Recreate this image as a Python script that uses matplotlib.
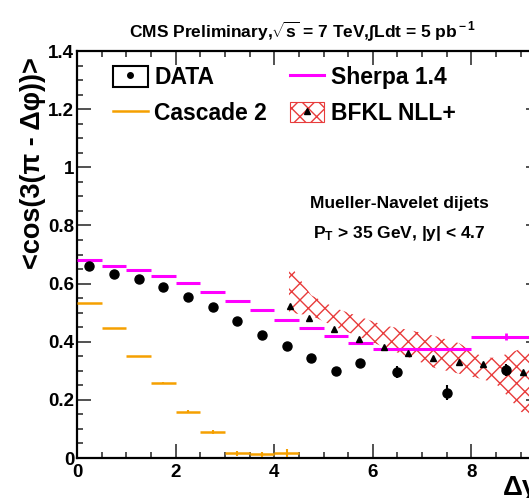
import numpy as np
import matplotlib
matplotlib.use("Agg")
import matplotlib.pyplot as plt
from matplotlib.lines import Line2D
from matplotlib.patches import Rectangle
from matplotlib.legend_handler import HandlerTuple

plt.rcParams['font.family'] = ['Liberation Sans', 'DejaVu Sans']
plt.rcParams['font.weight'] = 'bold'
plt.rcParams['mathtext.fontset'] = 'custom'
plt.rcParams['mathtext.rm'] = 'Liberation Sans:bold'
plt.rcParams['mathtext.bf'] = 'Liberation Sans:bold'
plt.rcParams['mathtext.it'] = 'Liberation Sans:bold:italic'
plt.rcParams['hatch.linewidth'] = 1.0

#==================== data ====================
# CMS data points (x centre, value, error)
data_x = [0.25, 0.75, 1.25, 1.75, 2.25, 2.75, 3.25, 3.75, 4.25, 4.75, 5.25, 5.75, 6.5, 7.5, 8.7]
data_y = [0.660, 0.632, 0.616, 0.589, 0.553, 0.519, 0.471, 0.422, 0.384, 0.345, 0.300, 0.326, 0.295, 0.225, 0.303]
data_err = [0.004, 0.004, 0.004, 0.004, 0.004, 0.005, 0.005, 0.005, 0.006, 0.006, 0.007, 0.015, 0.02, 0.025, 0.02]

# bin edges shared by the MC histograms
bin_lo = [0.0, 0.5, 1.0, 1.5, 2.0, 2.5, 3.0, 3.5, 4.0, 4.5, 5.0, 5.5, 6.0, 8.0]
bin_hi = [0.5, 1.0, 1.5, 2.0, 2.5, 3.0, 3.5, 4.0, 4.5, 5.0, 5.5, 6.0, 8.0, 9.4]

# Sherpa 1.4
sherpa_y = [0.681, 0.662, 0.647, 0.627, 0.602, 0.572, 0.540, 0.509, 0.475, 0.446, 0.420, 0.396, 0.376, 0.417]
sherpa_err = [0, 0, 0, 0, 0, 0, 0, 0, 0, 0, 0, 0, 0, 0.012]

# Cascade 2 (only first 9 bins)
cascade_y = [0.534, 0.448, 0.352, 0.257, 0.159, 0.090, 0.016, 0.013, 0.017]
cascade_err = [0.0, 0.0, 0.0, 0.003, 0.005, 0.006, 0.008, 0.008, 0.014]

# BFKL NLL+ central values
bfkl_x = [4.32, 4.71, 5.21, 5.72, 6.23, 6.72, 7.22, 7.74, 8.23, 8.73, 9.04]
bfkl_y = [0.523, 0.480, 0.443, 0.409, 0.383, 0.360, 0.343, 0.331, 0.322, 0.310, 0.297]

# BFKL uncertainty band
band_x = [4.3, 4.75, 5.25, 5.75, 6.25, 6.75, 7.25, 7.75, 8.0, 8.25, 8.5, 8.75, 9.0, 9.4]
band_hi = [0.67, 0.56, 0.515, 0.485, 0.455, 0.44, 0.42, 0.395, 0.37, 0.345, 0.345, 0.36, 0.375, 0.39]
band_lo = [0.50, 0.49, 0.45, 0.415, 0.38, 0.345, 0.31, 0.29, 0.28, 0.27, 0.255, 0.21, 0.16, 0.11]

MAGENTA = '#ff00ff'
ORANGE = '#f5a000'
HATCH_RED = '#e83c3c'

W, H = 529, 498
fig = plt.figure(figsize=(W / 100, H / 100), dpi=100)
# axes runs 0..9.4; its right end is cut off by the figure edge
ax = fig.add_axes([77 / W, 1 - 458 / H, (9.4 * 49.3) / W, 407 / H])

# ==============<<< BFKL band + points >>>==============
ax.fill_between(band_x, band_lo, band_hi, facecolor='none', edgecolor=HATCH_RED,
                hatch='xx', linewidth=0, zorder=1)
ax.plot(bfkl_x, bfkl_y, linestyle='none', marker='^', ms=4, color='black', zorder=4)

# ==============<<< Sherpa histogram >>>==============
lo = np.array(bin_lo)
hi = np.array(bin_hi)
ax.hlines(sherpa_y, lo, hi, colors=MAGENTA, linewidth=2.2, zorder=3)
sh_err = np.array(sherpa_err)
m = sh_err > 0
ax.errorbar(((lo + hi) / 2)[m], np.array(sherpa_y)[m], yerr=sh_err[m], fmt='none',
            ecolor=MAGENTA, elinewidth=2.0, capsize=0, zorder=3)

# ==============<<< Cascade histogram >>>==============
nc = len(cascade_y)
ax.hlines(cascade_y, lo[:nc], hi[:nc], colors=ORANGE, linewidth=1.8, zorder=3)
ax.errorbar(((lo + hi) / 2)[:nc], cascade_y, yerr=cascade_err, fmt='none',
            ecolor=ORANGE, elinewidth=1.5, capsize=0, zorder=3)

# ==============<<< data >>>==============
ax.errorbar(data_x, data_y, yerr=data_err, fmt='o', color='black', ms=6.5,
            elinewidth=1.5, capsize=0, zorder=5)

ax.set_xlim(0, 9.4)
ax.set_ylim(0, 1.4)
ax.set_xticks([0, 2, 4, 6, 8])
ax.set_xticks(np.arange(0, 9.41, 0.5), minor=True)
ax.set_yticks([0, 0.2, 0.4, 0.6, 0.8, 1.0, 1.2, 1.4])
ax.set_yticklabels(['0', '0.2', '0.4', '0.6', '0.8', '1', '1.2', '1.4'])
ax.set_yticks(np.arange(0, 1.401, 0.05), minor=True)
ax.tick_params(which='both', direction='in', top=True, right=True, width=1.2,
               labelsize=13.5, color='#333333')
ax.tick_params(which='major', length=10)
ax.tick_params(which='minor', length=4.5)
ax.tick_params(axis='y', pad=2)
ax.tick_params(axis='x', pad=4)
for sp in ax.spines.values():
    sp.set_linewidth(1.6)

# ==============<<< legend >>>==============
h_data = (Rectangle((0, 0), 1, 1, facecolor='white', edgecolor='black', linewidth=1.5),
          Line2D([], [], linestyle='none', marker='o', ms=4, color='black'))
h_casc = Line2D([], [], color=ORANGE, linewidth=1.8)
h_sher = Line2D([], [], color=MAGENTA, linewidth=2.2)
h_bfkl = (Rectangle((0, 0), 1, 1, facecolor='white', edgecolor=HATCH_RED, hatch='xx', linewidth=0.8),
          Line2D([], [], linestyle='none', marker='^', ms=4, color='black'))
ax.legend([h_data, h_casc, h_sher, h_bfkl], ['DATA', 'Cascade 2', 'Sherpa 1.4', 'BFKL NLL+'],
          handler_map={tuple: HandlerTuple(ndivide=1, pad=0)},
          ncol=2, loc='upper left', bbox_to_anchor=(0.078, 0.963), frameon=False,
          borderpad=0, borderaxespad=0, fontsize=16.5, handlelength=1.5, handleheight=1.0,
          handletextpad=0.3, columnspacing=1.0, labelspacing=0.55)

ax.text(0.695, 0.625, 'Mueller-Navelet dijets', transform=ax.transAxes,
        ha='center', va='center', fontsize=12.5)
ax.text(0.695, 0.552, r'P$_{\rm T}$ > 35 GeV, |y| < 4.7', transform=ax.transAxes,
        ha='center', va='center', fontsize=12.5)

# ==============<<< titles / labels >>>==============
fig.text(303 / W, 1 - 37 / H, r'CMS Preliminary,$\sqrt{\rm s}$ = 7 TeV,$\int$Ldt = 5 pb$^{\rm -1}$',
         ha='center', va='baseline', fontsize=12.5)
fig.text(33 / W, 1 - 57 / H, '<cos(3(π - Δφ))>', rotation=90, ha='center', va='top',
         fontsize=19.5)
fig.text(503 / W, 1 - 495 / H, 'Δy', ha='left', va='baseline', fontsize=20)

fig.savefig('out.png', dpi=100)
